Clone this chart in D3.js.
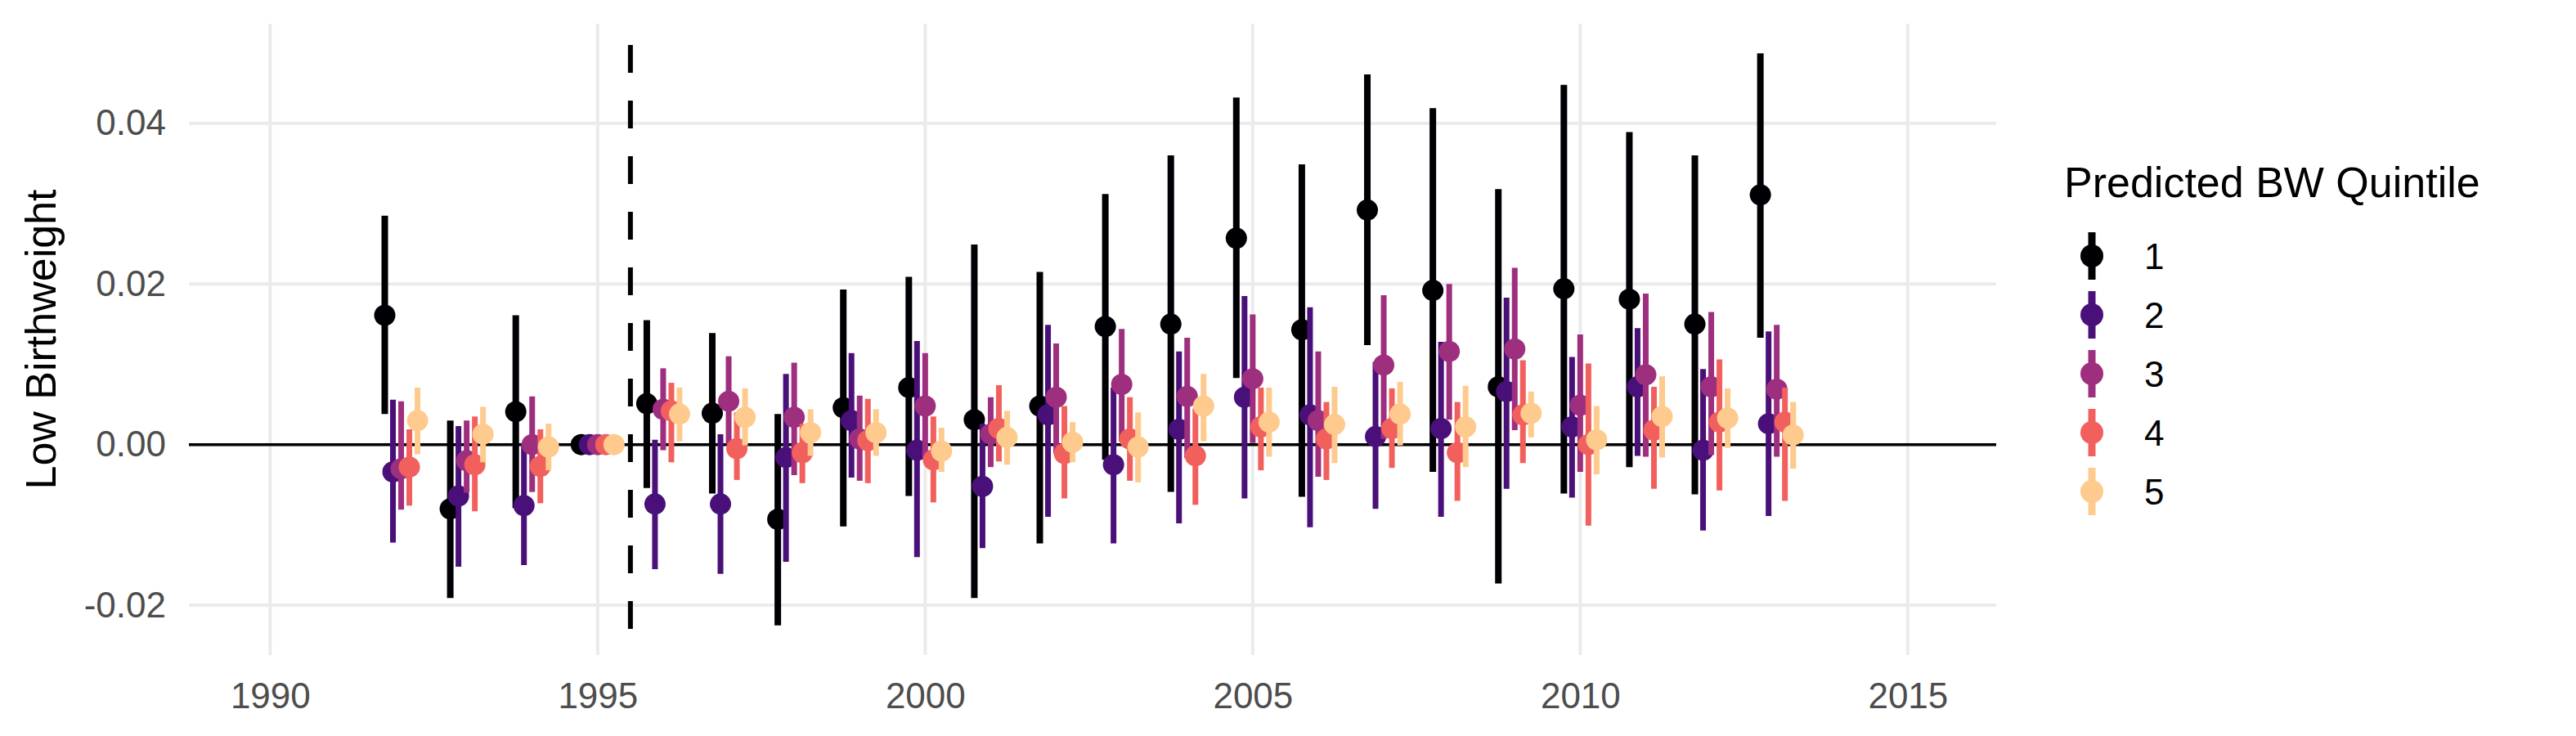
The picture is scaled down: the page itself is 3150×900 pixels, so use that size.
<!DOCTYPE html>
<html><head><meta charset="utf-8">
<script src="https://cdn.jsdelivr.net/npm/d3@7"></script>
<style>body{margin:0;background:#fff}text{font-family:"Liberation Sans",Arial,sans-serif}</style>
</head><body><svg id="c" width="3150" height="900"></svg>
<script>
const years=[1992,1993,1994,1995,1996,1997,1998,1999,2000,2001,2002,2003,2004,2005,2006,2007,2008,2009,2010,2011,2012,2013];
const quintiles=["1","2","3","4","5"];
const colors=["#000004","#4a1079","#9e2f7f","#f1605d","#feca8d"];
const xTicks=[1990,1995,2000,2005,2010,2015];
const yTicks=[-0.02,0,0.02,0.04];
const yTickLabels=["-0.02","0.00","0.02","0.04"];
// estimate, low, high per quintile per year
const q1Est=[0.0161,-0.0080,0.0041,0,0.0051,0.0039,-0.0093,0.0046,0.0071,0.0031,0.0048,0.0147,0.0150,0.0257,0.0143,0.0292,0.0192,0.0072,0.0194,0.0181,0.0150,0.0311];
const q1Lo=[0.0038,-0.0191,-0.0079,0,-0.0054,-0.0061,-0.0225,-0.0102,-0.0064,-0.0191,-0.0123,-0.0019,-0.0059,0.0083,-0.0065,0.0124,-0.0034,-0.0173,-0.0061,-0.0028,-0.0062,0.0133];
const q1Hi=[0.0285,0.0030,0.0161,0,0.0155,0.0139,0.0038,0.0193,0.0209,0.0249,0.0215,0.0312,0.0360,0.0432,0.0349,0.0461,0.0419,0.0318,0.0448,0.0389,0.0360,0.0487];
const q2Est=[-0.0034,-0.0064,-0.0076,0,-0.0074,-0.0074,-0.0016,0.0030,-0.0007,-0.0052,0.0037,-0.0025,0.0019,0.0059,0.0037,0.0010,0.0020,0.0066,0.0022,0.0072,-0.0007,0.0026];
const q2Lo=[-0.0122,-0.0152,-0.0150,0,-0.0155,-0.0161,-0.0146,-0.0041,-0.0140,-0.0129,-0.0090,-0.0123,-0.0098,-0.0067,-0.0103,-0.0080,-0.0090,-0.0055,-0.0066,-0.0014,-0.0107,-0.0089];
const q2Hi=[0.0056,0.0023,0.0001,0,0.0006,0.0013,0.0088,0.0114,0.0129,0.0026,0.0149,0.0071,0.0116,0.0185,0.0171,0.0103,0.0128,0.0183,0.0109,0.0145,0.0094,0.0141];
const q3Est=[-0.0030,-0.0020,0.0000,0,0.0044,0.0054,0.0034,0.0007,0.0048,0.0013,0.0059,0.0075,0.0060,0.0082,0.0030,0.0099,0.0116,0.0119,0.0049,0.0087,0.0072,0.0069];
const q3Lo=[-0.0081,-0.0060,-0.0059,0,-0.0007,0.0000,-0.0038,-0.0045,-0.0016,-0.0028,-0.0011,0.0004,-0.0017,0.0002,-0.0040,0.0007,0.0031,0.0018,-0.0034,-0.0015,-0.0013,-0.0015];
const q3Hi=[0.0054,0.0030,0.0060,0,0.0095,0.0110,0.0102,0.0061,0.0114,0.0059,0.0126,0.0144,0.0133,0.0162,0.0116,0.0186,0.0200,0.0220,0.0137,0.0188,0.0165,0.0149];
const q4Est=[-0.0028,-0.0025,-0.0027,0,0.0042,-0.0005,-0.0010,0.0005,-0.0019,0.0020,-0.0011,0.0007,-0.0014,0.0022,0.0007,0.0020,-0.0010,0.0037,0.0000,0.0018,0.0028,0.0028];
const q4Lo=[-0.0076,-0.0083,-0.0073,0,-0.0022,-0.0044,-0.0048,-0.0048,-0.0072,-0.0021,-0.0067,-0.0045,-0.0075,-0.0032,-0.0044,-0.0029,-0.0070,-0.0023,-0.0101,-0.0055,-0.0057,-0.0070];
const q4Hi=[0.0019,0.0035,0.0019,0,0.0077,0.0040,0.0026,0.0057,0.0035,0.0074,0.0048,0.0059,0.0045,0.0071,0.0053,0.0070,0.0053,0.0105,0.0101,0.0072,0.0106,0.0071];
const q5Est=[0.0030,0.0013,-0.0003,0,0.0038,0.0034,0.0015,0.0015,-0.0008,0.0009,0.0003,-0.0003,0.0048,0.0028,0.0025,0.0038,0.0022,0.0039,0.0006,0.0035,0.0033,0.0012];
const q5Lo=[-0.0012,-0.0022,-0.0032,0,0.0004,-0.0001,-0.0014,-0.0014,-0.0034,-0.0025,-0.0022,-0.0047,0.0004,-0.0015,-0.0023,-0.0001,-0.0028,0.0009,-0.0037,-0.0016,-0.0004,-0.0030];
const q5Hi=[0.0071,0.0047,0.0026,0,0.0071,0.0070,0.0044,0.0044,0.0021,0.0042,0.0028,0.0040,0.0088,0.0071,0.0072,0.0078,0.0073,0.0066,0.0048,0.0085,0.0070,0.0053];
const est=[q1Est,q2Est,q3Est,q4Est,q5Est], lo=[q1Lo,q2Lo,q3Lo,q4Lo,q5Lo], hi=[q1Hi,q2Hi,q3Hi,q4Hi,q5Hi];
const offsets=[-0.25,-0.125,0,0.125,0.25];

const svg=d3.select("#c");
const L=231,R=2441,T=29,B=801;
const x=d3.scaleLinear().domain([1988.76,2016.35]).range([L,R]);
const y=d3.scaleLinear().domain([-0.0262,0.0524]).range([B,T]);
const g=svg.append("g");
// grid
g.selectAll(".gx").data(xTicks).join("line").attr("x1",d=>x(d)).attr("x2",d=>x(d)).attr("y1",T).attr("y2",B).attr("stroke","#ebebeb").attr("stroke-width",4);
g.selectAll(".gy").data(yTicks).join("line").attr("x1",L).attr("x2",R).attr("y1",d=>y(d)).attr("y2",d=>y(d)).attr("stroke","#ebebeb").attr("stroke-width",4);
// axes labels via d3 axes
const ax=svg.append("g").attr("transform",`translate(0,${B})`).call(d3.axisBottom(x).tickValues(xTicks).tickFormat(d3.format("d")).tickSize(0).tickPadding(34));
const ay=svg.append("g").attr("transform",`translate(${L},0)`).call(d3.axisLeft(y).tickValues(yTicks).tickFormat((d,i)=>yTickLabels[i]).tickSize(0).tickPadding(28));
[ax,ay].forEach(a=>{a.select(".domain").remove();a.selectAll("text").attr("font-size",44).attr("fill","#4d4d4d").attr("font-family","Liberation Sans, Arial, sans-serif");});
// zero line and vline
g.append("line").attr("x1",L).attr("x2",R).attr("y1",y(0)).attr("y2",y(0)).attr("stroke","#000").attr("stroke-width",3.5);
g.append("line").attr("x1",x(1995.5)).attr("x2",x(1995.5)).attr("y1",T).attr("y2",B).attr("stroke","#000").attr("stroke-width",6).attr("stroke-dasharray","34,34").attr("stroke-dashoffset",-26);
// pointranges
quintiles.forEach((q,qi)=>{
  const gg=svg.append("g");
  years.forEach((yr,i)=>{
    const cx=x(yr+offsets[qi]);
    if(hi[qi][i]!==lo[qi][i]) gg.append("line").attr("x1",cx).attr("x2",cx).attr("y1",y(lo[qi][i])).attr("y2",y(hi[qi][i])).attr("stroke",colors[qi]).attr("stroke-width",qi===0?8:7);
    gg.append("circle").attr("cx",cx).attr("cy",y(est[qi][i])).attr("r",13).attr("fill",colors[qi]);
  });
});
// axis title
svg.append("text").attr("transform",`translate(68,${(T+B)/2}) rotate(-90)`).attr("text-anchor","middle").attr("font-size",52).attr("fill","#000").text("Low Birthweight");
// legend
const lg=svg.append("g");
lg.append("text").attr("x",2524).attr("y",241).attr("font-size",52).text("Predicted BW Quintile");
quintiles.forEach((q,i)=>{
  const cy=313+i*72;
  lg.append("line").attr("x1",2558).attr("x2",2558).attr("y1",cy-29).attr("y2",cy+29).attr("stroke",colors[i]).attr("stroke-width",9);
  lg.append("circle").attr("cx",2558).attr("cy",cy).attr("r",14).attr("fill",colors[i]);
  lg.append("text").attr("x",2622).attr("y",cy+16).attr("font-size",44).text(q);
});
</script></body></html>
